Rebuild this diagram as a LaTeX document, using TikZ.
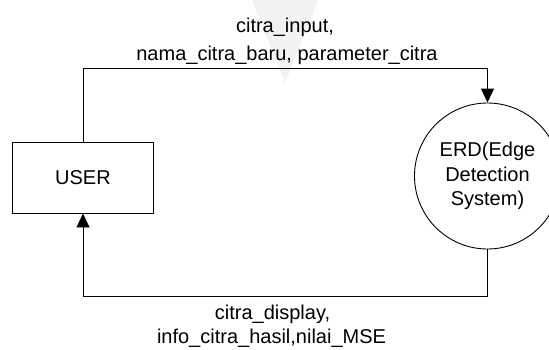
\documentclass[tikz,border=0pt]{standalone}
\usepackage{fontspec}
\setmainfont{Liberation Sans}
\usetikzlibrary{arrows.meta}
\tikzset{
  flow/.style={draw=black, line width=0.9pt, -{Triangle[length=14pt,width=13pt]}},
  entity/.style={draw=black, line width=0.9pt, rectangle, minimum width=141pt, minimum height=71pt, inner sep=0pt},
  process/.style={draw=black, line width=0.9pt, circle, minimum size=146pt, inner sep=0pt, align=center, font=\fontsize{20}{24.5}\selectfont},
  lbl/.style={anchor=base, inner sep=0pt, font=\fontsize{20}{24}\selectfont}
}
\begin{document}
\begin{tikzpicture}[x=1pt,y=-1pt]
\useasboundingbox (0,0) rectangle (549,349);
\clip (0,0) rectangle (549,349);
% faint watermark
\fill[black!5] (252,0) -- (318,0) -- (285,83) -- cycle;
% nodes
\node[entity] (user) at (83,177.5) {\fontsize{20}{24}\selectfont USER};
\node[process] (erd) at (487.5,176) {ERD(Edge\\Detection\\System)};
\coordinate (topy) at (0,68.5);
\coordinate (boty) at (0,296);
% connectors
\draw[flow] (user.north) |- (topy -| erd.north) -- (erd.north);
\draw[flow] (erd.south) |- (boty -| user.south) -- (user.south);
% labels
\node[lbl] (inA) at (285,32) {citra\_input,};
\node[lbl] (inB) at (287,60) {nama\_citra\_baru, parameter\_citra};
\node[lbl] (outA) at (272.5,319) {citra\_display,};
\node[lbl] (outB) at (271.5,343) {info\_citra\_hasil,nilai\_MSE};
\end{tikzpicture}
\end{document}
